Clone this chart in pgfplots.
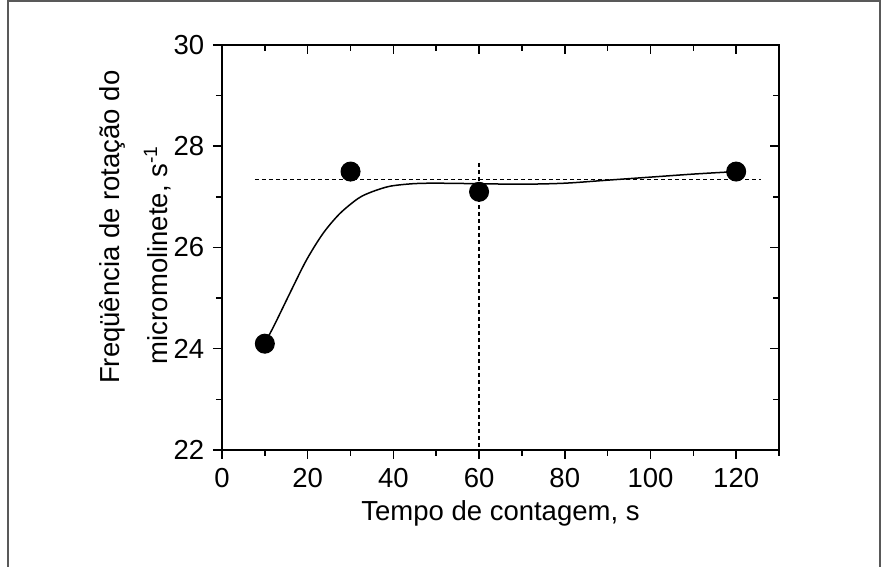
\documentclass[border=0pt]{standalone}
\usepackage{fontspec}
\setmainfont{Liberation Sans}
\usepackage{pgfplots}
\pgfplotsset{compat=1.18}
\usepackage{pgfplotstable}

% measured points
\pgfplotstableread{
t f
10 24.1
30 27.5
60 27.1
120 27.5
}\medidas

% fitted curve
\pgfplotstableread{
t f
10 24.12
12 24.43
15.8 25.09
19.7 25.75
23.6 26.28
27.5 26.67
31.8 26.97
35 27.10
39.2 27.21
44.6 27.26
50 27.27
60 27.26
70 27.25
80 27.27
90 27.33
100 27.39
110 27.45
120 27.50
}\ajuste

\pgfplotstableread{
t f
7.7 27.34
125.7 27.34
}\media

\pgfplotstableread{
t f
60 27.67
60 22.05
}\vertical

\begin{document}
\begin{tikzpicture}[font=\fontsize{11pt}{13.2pt}\selectfont]
\useasboundingbox (-88.8pt,-46.8pt) rectangle (263.6pt,180pt);
\draw[gray!70!black, line width=0.8pt] (-85.6pt,-47pt) -- (-85.6pt,179.6pt) -- (263.2pt,179.6pt) -- (263.2pt,-47pt);

\pgfplotsset{
  base/.style={
    scale only axis, width=222.8pt, height=162pt,
    xmin=0, xmax=130, ymin=22, ymax=30,
    xtick={0,20,...,120}, minor xtick={10,30,...,130},
    ytick={22,24,...,30}, minor ytick={23,25,27,29},
    major tick length=3.6pt, minor tick length=2.4pt,
    every tick/.style={black, line width=0.6pt},
    axis line style={line width=0.8pt},
    /pgf/number format/assume math mode=true,
  }
}

\begin{axis}[base,
  tick align=outside, xtick pos=bottom, ytick pos=left,
  xlabel={Tempo de contagem, s},
  xlabel style={at={(axis description cs:0.5,0)}, anchor=base, yshift=-28.4pt},
  ylabel={Freqüência de rotação do\\[6pt]micromolinete, s\textsuperscript{-1}\hspace*{22pt}},
  ylabel style={align=center, at={(axis description cs:-0.0987,0.55)}, anchor=base},
  clip=false,
]
\addplot[black, line width=0.5pt, dash pattern=on 1.6pt off 1.2pt] table[x=t,y=f] {\media};
\addplot[black, line width=0.5pt, dash pattern=on 1.6pt off 1.2pt] table[x=t,y=f] {\vertical};
\addplot[black, line width=0.6pt, smooth, tension=0.5] table[x=t,y=f] {\ajuste};
\addplot[only marks, mark=*, mark size=3.8pt, black] table[x=t,y=f] {\medidas};
\end{axis}

\begin{axis}[base,
  tick align=inside, xtick pos=top, ytick pos=right,
  xticklabels={}, yticklabels={},
]
\end{axis}
\end{tikzpicture}
\end{document}
